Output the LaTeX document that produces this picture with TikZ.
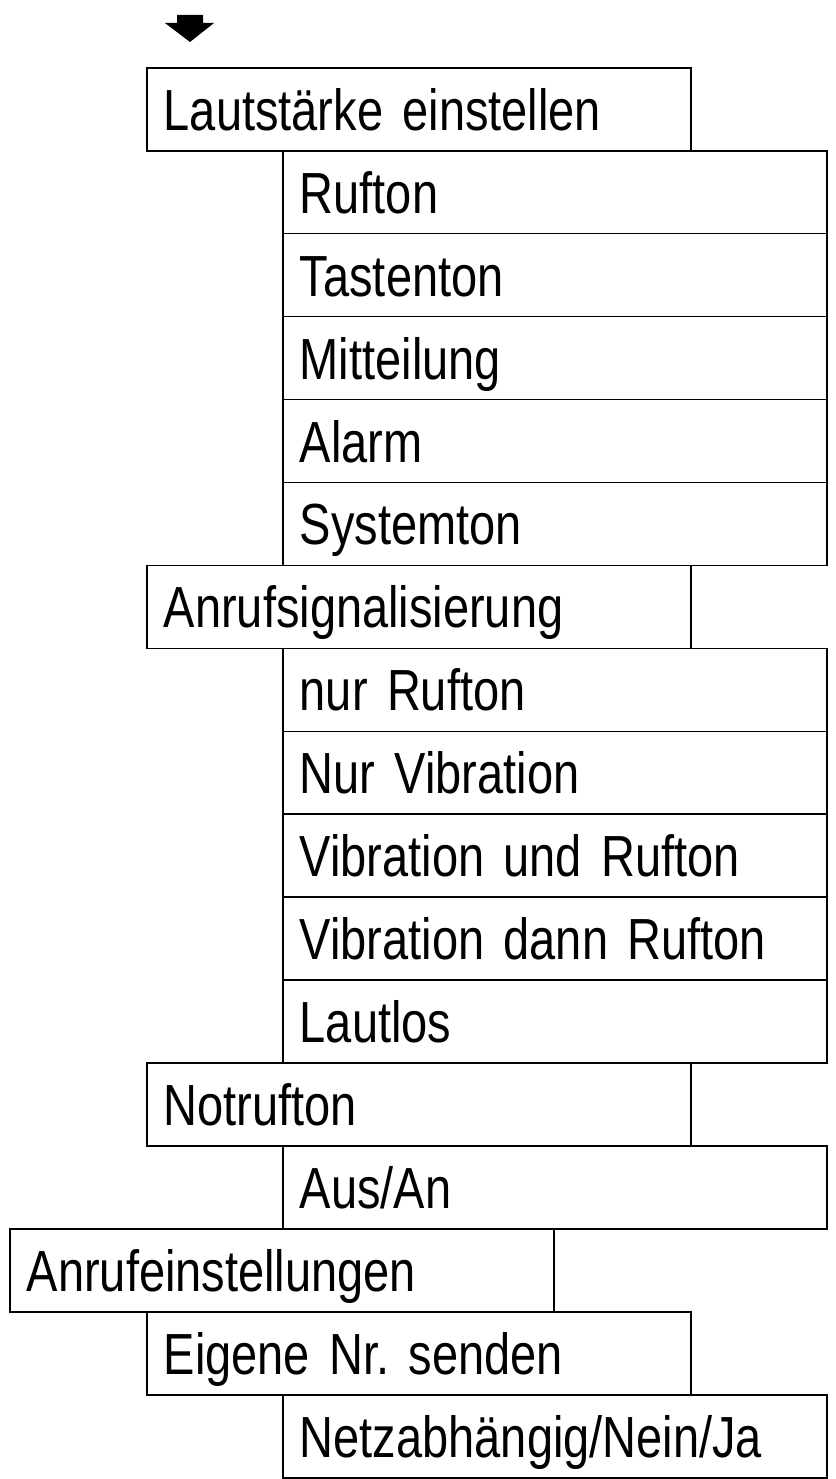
\documentclass[tikz,border=0pt]{standalone}
\usepackage{fontspec}
\setmainfont[FakeStretch=0.81]{Liberation Sans}
\usetikzlibrary{positioning}

\newcommand\menufont{\fontsize{58}{62}\selectfont\frenchspacing\spaceskip 9pt\relax}

\tikzset{
  menubox/.style={draw, line width=1.6pt, anchor=north west, text width=510pt,
    inner xsep=17pt, inner ysep=0pt, minimum height=82.94pt, align=left,
    text height=42pt, text depth=0pt, font=\menufont},
}

\begin{document}
\begin{tikzpicture}[x=1pt,y=-1pt]
  \def\rh{82.94}
  \useasboundingbox (0,0) rectangle (835,1479);

  % Pfeil oben
  \fill (177,15) -- (203,15) -- (203,23) -- (214,23) -- (190,42) -- (165,23) -- (177,23) -- cycle;

  % Lautstärke
  \node[menubox] (laut) at (146,{67+0*\rh}) {Lautstärke einstellen};
  \node[menubox] (ruf) at (282,{67+1*\rh}) {Rufton};
  \node[menubox] (taste) at (282,{67+2*\rh}) {Tastenton};
  \node[menubox] (mitt) at (282,{67+3*\rh}) {Mitteilung};
  \node[menubox] (alarm) at (282,{67+4*\rh}) {Alarm};
  \node[menubox] (sys) at (282,{67+5*\rh}) {Systemton};

  % Anrufsignalisierung
  \node[menubox] (signal) at (146,{67+6*\rh}) {Anrufsignalisierung};
  \node[menubox] (nurruf) at (282,{67+7*\rh}) {nur Rufton};
  \node[menubox] (nurvib) at (282,{67+8*\rh}) {Nur Vibration};
  \node[menubox] (vibund) at (282,{67+9*\rh}) {Vibration und Rufton};
  \node[menubox] (vibdann) at (282,{67+10*\rh}) {Vibration dann Rufton};
  \node[menubox] (lautlos) at (282,{67+11*\rh}) {Lautlos};

  % Notrufton
  \node[menubox] (notruf) at (146,{67+12*\rh}) {Notrufton};
  \node[menubox] (ausan) at (282,{67+13*\rh}) {Aus/An};

  % Anrufeinstellungen
  \node[menubox] (anruf) at (9,{67+14*\rh}) {Anrufeinstellungen};
  \node[menubox] (eigen) at (146,{67+15*\rh}) {Eigene Nr. senden};
  \node[menubox] (netz) at (282,{67+16*\rh}) {Netzabhängig/Nein/Ja};
\end{tikzpicture}
\end{document}
